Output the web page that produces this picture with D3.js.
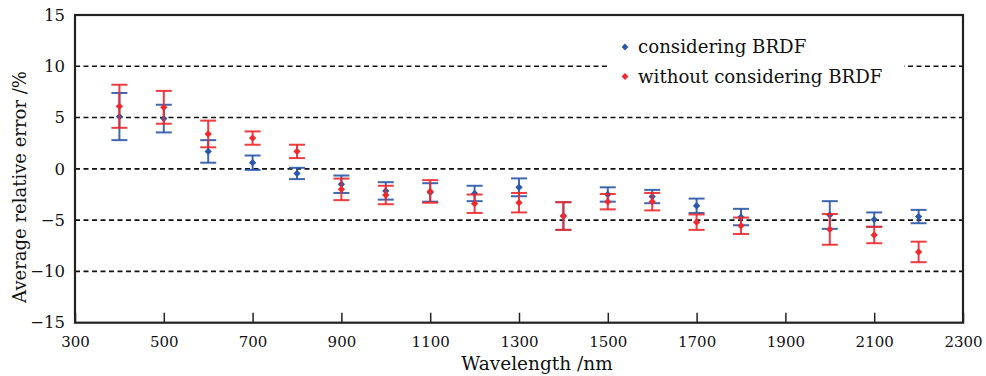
<!DOCTYPE html>
<html><head><meta charset="utf-8">
<script src="https://cdn.jsdelivr.net/npm/d3@7"></script>
<style>body{margin:0;background:#fff}svg{display:block}text{font-family:"DejaVu Serif",serif;fill:#111}</style>
</head><body><svg id="c" width="986" height="376"></svg>
<script>
const wavelengths = [400,500,600,700,800,900,1000,1100,1200,1300,1400,1500,1600,1700,1800,2000,2100,2200];
const withBRDF    = [5.1,4.9,1.7,0.6,-0.45,-1.5,-2.15,-2.3,-2.4,-1.8,-4.6,-2.5,-2.7,-3.6,-4.7,-4.5,-4.95,-4.65];
const withBRDFErr = [2.3,1.35,1.1,0.7,0.55,0.85,0.85,0.9,0.75,0.87,1.35,0.7,0.65,0.7,0.8,1.35,0.7,0.65];
const noBRDF      = [6.1,6.0,3.4,3.0,1.7,-2.0,-2.55,-2.2,-3.4,-3.3,-4.6,-3.2,-3.2,-5.2,-5.55,-5.9,-6.45,-8.1];
const noBRDFErr   = [2.1,1.6,1.3,0.65,0.65,1.05,0.9,1.1,0.9,0.95,1.35,0.75,0.85,0.75,0.8,1.5,0.8,1.0];
const xTicks = [300,500,700,900,1100,1300,1500,1700,1900,2100,2300];
const yTicks = [15,10,5,0,-5,-10,-15];
const gridValues = [10,5,0,-5,-10];
const seriesNames = ["considering BRDF","without considering BRDF"];
const seriesColors = ["#2b58a8","#ee2a2e"];

const svg = d3.select("#c");
const L=75,R=963,T=15,B=322.7;
const x = d3.scaleLinear().domain([300,2300]).range([L,R]);
const y = d3.scaleLinear().domain([-15,15]).range([B,T]);

// grid
svg.append("g").selectAll("line").data(gridValues).join("line")
  .attr("x1",L).attr("x2",R).attr("y1",d=>y(d)).attr("y2",d=>y(d))
  .attr("stroke","#111").attr("stroke-width",1.6).attr("stroke-dasharray","5,3.5");

// x axis ticks inward
const xa = svg.append("g").attr("transform",`translate(0,${B})`)
  .call(d3.axisBottom(x).tickValues(xTicks).tickSizeInner(-10).tickSizeOuter(0).tickPadding(14).tickFormat(d3.format("d")));
xa.select(".domain").remove();
xa.selectAll("line").attr("stroke","#222").attr("stroke-width",1.5);
xa.selectAll("text").attr("font-size",15).attr("font-family","DejaVu Serif").attr("fill","#111");

const ya = svg.append("g").attr("transform",`translate(${L},0)`)
  .call(d3.axisLeft(y).tickValues(yTicks).tickSize(0).tickPadding(10).tickFormat(d=>d<0?"\u2212"+Math.abs(d):d));
ya.select(".domain").remove();
ya.selectAll("text").attr("font-size",16.5).attr("font-family","DejaVu Serif").attr("fill","#111");

// frame
svg.append("rect").attr("x",L).attr("y",T).attr("width",R-L).attr("height",B-T)
  .attr("fill","none").attr("stroke","#222").attr("stroke-width",2.2);

// legend background
svg.append("rect").attr("x",607).attr("y",30).attr("width",297).attr("height",60).attr("fill","#fff");

function drawSeries(means, errs, color){
  const g = svg.append("g");
  const data = wavelengths.map((w,i)=>({w,m:means[i],e:errs[i]}));
  const gg = g.selectAll("g").data(data).join("g");
  gg.append("line").attr("x1",d=>x(d.w)).attr("x2",d=>x(d.w))
    .attr("y1",d=>y(d.m+d.e)).attr("y2",d=>y(d.m-d.e)).attr("stroke",color).attr("stroke-width",2).attr("opacity",0.9);
  [1,-1].forEach(s=>{
    gg.append("line").attr("x1",d=>x(d.w)-8).attr("x2",d=>x(d.w)+8)
      .attr("y1",d=>y(d.m+s*d.e)).attr("y2",d=>y(d.m+s*d.e)).attr("stroke",color).attr("stroke-width",2).attr("opacity",0.9);
  });
  gg.append("path").attr("d",d3.symbol(d3.symbolDiamond2,34)())
    .attr("transform",d=>`translate(${x(d.w)},${y(d.m)})`).attr("fill",color);
}
drawSeries(withBRDF, withBRDFErr, seriesColors[0]);
drawSeries(noBRDF, noBRDFErr, seriesColors[1]);

// legend
const lg = svg.append("g");
seriesNames.forEach((n,i)=>{
  const yy = 47 + i*29.5;
  lg.append("path").attr("d",d3.symbol(d3.symbolDiamond2,30)()).attr("transform",`translate(625,${yy})`).attr("fill",seriesColors[i]);
  lg.append("text").attr("x",638).attr("y",yy+6).attr("font-size",18.2).text(n);
});

// titles
svg.append("text").attr("x",537).attr("y",370).attr("text-anchor","middle").attr("font-size",18.5).text("Wavelength /nm");
svg.append("text").attr("transform","translate(26,187) rotate(-90)").attr("text-anchor","middle").attr("font-size",18).text("Average relative error /%");
</script></body></html>
